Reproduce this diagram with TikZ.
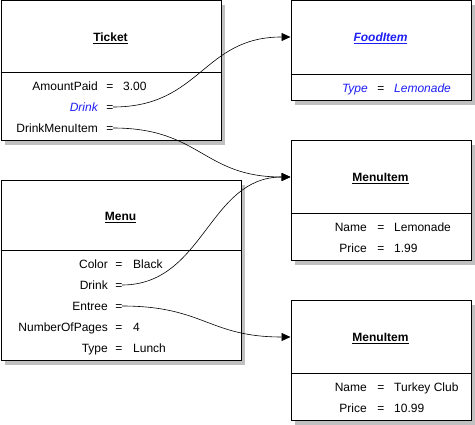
\documentclass[tikz,border=0pt]{standalone}
\usepackage{fontspec}
\setmainfont{Liberation Sans}
\usetikzlibrary{arrows.meta,shadows}
\definecolor{objblue}{RGB}{30,30,245}
\definecolor{shadowgray}{RGB}{192,192,192}
\tikzset{
  objbox/.style={draw=black, line width=1pt, fill=white, anchor=north west, inner sep=0pt,
     drop shadow={shadow xshift=4pt, shadow yshift=-4pt, fill=shadowgray, opacity=1}},
  divider/.style={draw=black, line width=0.8pt},
  title/.style={font=\fontsize{12}{14}\selectfont\bfseries, inner sep=0pt, anchor=base},
  lbl/.style={font=\fontsize{12}{14}\selectfont, anchor=base east, inner sep=0pt},
  eqs/.style={font=\fontsize{12}{14}\selectfont, anchor=base, inner sep=0pt},
  val/.style={font=\fontsize{12}{14}\selectfont, anchor=base west, inner sep=0pt},
  conn/.style={draw=black, line width=0.6pt, -{Triangle[length=9pt,width=8pt]}},
}
\begin{document}
\begin{tikzpicture}[x=1pt,y=-1pt]
\useasboundingbox (0,0) rectangle (475,425);
% boxes
\node[objbox, minimum width=220pt, minimum height=140pt] (ticket) at (0.5,0.5) {};
\node[objbox, minimum width=180pt, minimum height=100pt] (food) at (290.5,0.5) {};
\node[objbox, minimum width=180pt, minimum height=120pt] (mi1) at (290.5,140.5) {};
\node[objbox, minimum width=240pt, minimum height=180pt] (menu) at (0.5,180.5) {};
\node[objbox, minimum width=180pt, minimum height=120pt] (mi2) at (290.5,300.5) {};
% dividers
\draw[divider] (0.5,72) -- (220.5,72);
\draw[divider] (290.5,74) -- (470.5,74);
\draw[divider] (290.5,213) -- (470.5,213);
\draw[divider] (0.5,250) -- (240.5,250);
\draw[divider] (290.5,373) -- (470.5,373);
% Ticket
\node[title] (tT) at (110.5,41.3) {\underline{Ticket}};
\node[lbl] (tAl) at (98,90.3) {AmountPaid};
\node[eqs] (tAe) at (110,90.3) {=};
\node[val] (tAv) at (123,90.3) {3.00};
\node[lbl, text=objblue, font=\fontsize{12}{14}\selectfont\itshape] (tDl) at (98,111.3) {Drink};
\node[eqs] (tDe) at (110,111.3) {=};
\node[lbl] (tMl) at (98,132.3) {DrinkMenuItem};
\node[eqs] (tMe) at (110,132.3) {=};
% FoodItem
\node[title, text=objblue, font=\fontsize{12}{14}\selectfont\bfseries\itshape] (fT) at (380.5,41.3) {\underline{FoodItem}};
\node[lbl, text=objblue, font=\fontsize{12}{14}\selectfont\itshape] (fTl) at (368,92.3) {Type};
\node[eqs] (fTe) at (381,92.3) {=};
\node[val, text=objblue, font=\fontsize{12}{14}\selectfont\itshape] (fTv) at (394,92.3) {Lemonade};
% MenuItem 1
\node[title] (m1T) at (380.5,181.3) {\underline{MenuItem}};
\node[lbl] (m1Nl) at (367,231.3) {Name};
\node[eqs] (m1Ne) at (381,231.3) {=};
\node[val] (m1Nv) at (394,231.3) {Lemonade};
\node[lbl] (m1Pl) at (367,252.3) {Price};
\node[eqs] (m1Pe) at (381,252.3) {=};
\node[val] (m1Pv) at (394,252.3) {1.99};
% Menu
\node[title] (mT) at (120.5,220.3) {\underline{Menu}};
\node[lbl] (mCl) at (108,268.3) {Color};
\node[eqs] (mCe) at (119,268.3) {=};
\node[val] (mCv) at (133,268.3) {Black};
\node[lbl] (mDl) at (108,289.3) {Drink};
\node[eqs] (mDe) at (119,289.3) {=};
\node[lbl] (mEl) at (108,310.3) {Entree};
\node[eqs] (mEe) at (119,310.3) {=};
\node[lbl] (mNl) at (108,331.3) {NumberOfPages};
\node[eqs] (mNe) at (119,331.3) {=};
\node[val] (mNv) at (133,331.3) {4};
\node[lbl] (mTl) at (108,352.3) {Type};
\node[eqs] (mTe) at (119,352.3) {=};
\node[val] (mTv) at (133,352.3) {Lunch};
% MenuItem 2
\node[title] (m2T) at (380.5,341.3) {\underline{MenuItem}};
\node[lbl] (m2Nl) at (367,391.3) {Name};
\node[eqs] (m2Ne) at (381,391.3) {=};
\node[val] (m2Nv) at (394,391.3) {Turkey Club};
\node[lbl] (m2Pl) at (367,412.3) {Price};
\node[eqs] (m2Pe) at (381,412.3) {=};
\node[val] (m2Pv) at (394,412.3) {10.99};
% connector anchors
\coordinate (tDo) at (113,107);
\coordinate (tMo) at (113,128);
\coordinate (mDo) at (122,285);
\coordinate (mEo) at (122,306);
\coordinate (fIn) at (290.5,37);
\coordinate (m1In) at (290.5,177);
\coordinate (m2In) at (290.5,337);
% connectors
\draw[conn] (tDo) .. controls +(88,0) and +(-88,0) .. (fIn);
\draw[conn] (tMo) .. controls +(88,0) and +(-88,0) .. (m1In);
\draw[conn] (mDo) .. controls +(82,0) and +(-82,0) .. (m1In);
\draw[conn] (mEo) .. controls +(82,0) and +(-82,0) .. (m2In);
\end{tikzpicture}
\end{document}
